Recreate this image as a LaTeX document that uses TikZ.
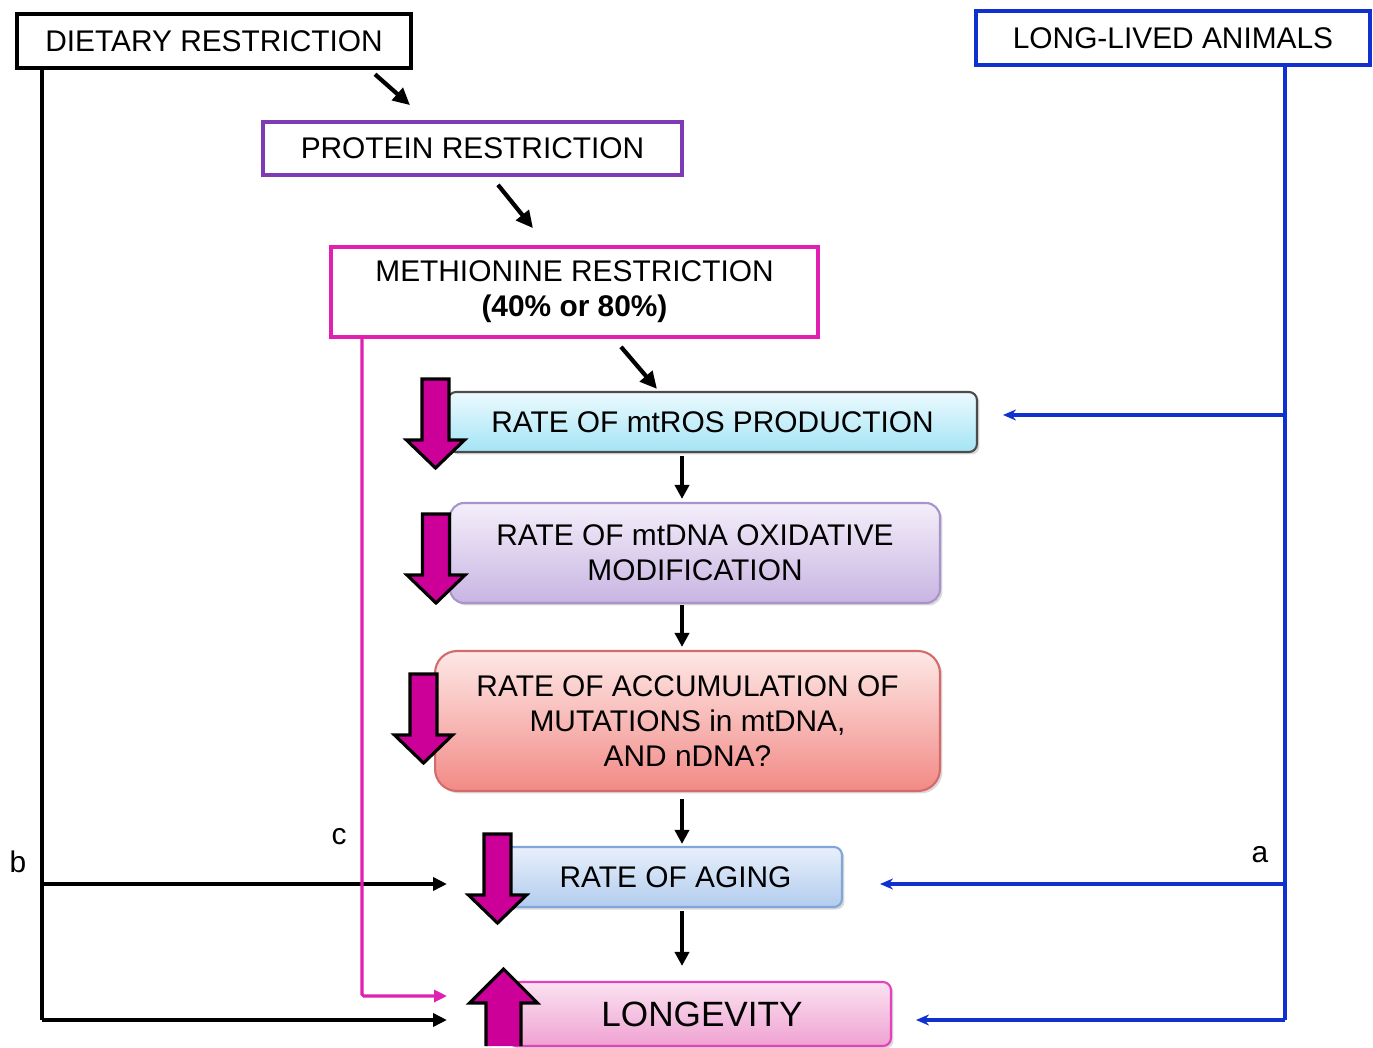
\documentclass[tikz,border=0pt]{standalone}
\usepackage{fontspec}
\setmainfont{Liberation Sans}
\usetikzlibrary{arrows.meta,calc,shadows}
\definecolor{fatmag}{HTML}{CC0099}
\definecolor{magline}{HTML}{E020B0}
\definecolor{purpline}{HTML}{7D3CB5}
\definecolor{blueline}{HTML}{1030D0}
\definecolor{rosT}{HTML}{ECFAFE}
\definecolor{rosB}{HTML}{A4E4F5}
\definecolor{dnaT}{HTML}{F4EFFA}
\definecolor{dnaB}{HTML}{C8B4E2}
\definecolor{dnaD}{HTML}{A894CC}
\definecolor{mutT}{HTML}{FDE8E6}
\definecolor{mutB}{HTML}{F28A86}
\definecolor{mutD}{HTML}{D46A6A}
\definecolor{ageT}{HTML}{E8F0FB}
\definecolor{ageB}{HTML}{B2CCEE}
\definecolor{ageD}{HTML}{7FA7D8}
\definecolor{lonT}{HTML}{FBE2F1}
\definecolor{lonB}{HTML}{EFA2D2}
\newcommand\fatdown[2]{%
  \draw[fatarrow] (#1-13.5,#2) -- (#1+13.5,#2) -- (#1+13.5,#2+61) -- (#1+29,#2+61)
    -- (#1,#2+89) -- (#1-29,#2+61) -- (#1-13.5,#2+61) -- cycle;}
\begin{document}
\begin{tikzpicture}[x=0.02cm,y=-0.02cm,
  font=\fontsize{17}{20}\selectfont,
  plainbox/.style={draw, line width=2.1pt, inner sep=0pt, align=center},
  roundbox/.style={draw, line width=1.2pt, inner sep=0pt, align=center,
     drop shadow={opacity=0.3, shadow xshift=0.05cm, shadow yshift=-0.05cm}},
  fatarrow/.style={draw=black, line width=1.8pt, fill=fatmag, line join=miter},
  arr/.style={line width=2.1pt, -{Triangle[length=0.28cm,width=0.28cm]}},
  diag/.style={line width=2.4pt, -{Triangle[length=0.34cm,width=0.32cm]}},
  blkline/.style={line width=2.1pt, line join=miter},
  bluel/.style={draw=blueline, line width=2.1pt},
  bluearr/.style={bluel, -{Stealth[length=0.26cm,width=0.22cm]}},
  magl/.style={draw=magline, line width=1.8pt},
  magarr/.style={magl, -{Triangle[length=0.26cm,width=0.24cm]}},
  blkarr/.style={line width=2.1pt, -{Triangle[length=0.28cm,width=0.26cm]}},
  lab/.style={inner sep=0pt}
]
\useasboundingbox (0,0) rectangle (1373,1048);

% top boxes
\node[plainbox, draw=black, line width=2.6pt, minimum width=7.88cm, minimum height=1.08cm] (dr) at (214,41) {DIETARY RESTRICTION};
\node[plainbox, draw=purpline, minimum width=8.38cm, minimum height=1.06cm] (pr) at (472.5,148.5) {PROTEIN RESTRICTION};
\node[plainbox, draw=magline, minimum width=9.74cm, minimum height=1.8cm] (mr) at (574.5,292) {METHIONINE RESTRICTION\\\textbf{(40\% or 80\%)}};
\node[plainbox, draw=blueline, minimum width=7.88cm, minimum height=1.08cm] (lla) at (1173,38) {LONG-LIVED ANIMALS};

% chain boxes
\node[roundbox, draw=black!70, rounded corners=0.16cm, top color=rosT, bottom color=rosB,
      minimum width=10.58cm, minimum height=1.2cm] (ros) at (712.5,422) {RATE OF mtROS PRODUCTION};
\node[roundbox, draw=dnaD, rounded corners=0.28cm, top color=dnaT, bottom color=dnaB,
      minimum width=9.8cm, minimum height=2.0cm] (dna) at (695,553) {RATE OF mtDNA OXIDATIVE\\MODIFICATION};
\node[roundbox, draw=mutD, rounded corners=0.44cm, top color=mutT, bottom color=mutB,
      minimum width=10.1cm, minimum height=2.8cm] (mut) at (687.5,721) {RATE OF ACCUMULATION OF\\MUTATIONS in mtDNA,\\AND nDNA?};
\node[roundbox, draw=ageD, rounded corners=0.16cm, top color=ageT, bottom color=ageB,
      minimum width=6.9cm, minimum height=1.2cm] (age) at (669.5,877) {\hspace*{0.24cm}RATE OF AGING};
\node[roundbox, draw=magline!85, rounded corners=0.16cm, top color=lonT, bottom color=lonB,
      minimum width=7.66cm, minimum height=1.28cm, font=\fontsize{20}{24}\selectfont] (lon) at (699.5,1014) {\hspace*{0.1cm}LONGEVITY};

% diagonal arrows
\draw[diag] ($(dr.south)+(161,4)$) -- ($(pr.north)+(-62.5,-15)$);
\draw[diag] ($(pr.south)+(25.5,8)$) -- ($(mr.north)+(-41.5,-17)$);
\draw[diag] ($(mr.south)+(46.5,8)$) -- ($(ros.north)+(-55.5,-2)$);

% vertical chain arrows
\coordinate (colx) at (682,0);
\draw[arr, shorten <=0.06cm, shorten >=0.06cm] (ros.south -| colx) -- (dna.north -| colx);
\draw[arr, shorten <=0.02cm, shorten >=0.06cm] (dna.south -| colx) -- (mut.north -| colx);
\draw[arr, shorten <=0.14cm, shorten >=0.04cm] (mut.south -| colx) -- (age.north -| colx);
\draw[arr, shorten <=0.06cm, shorten >=0.3cm] (age.south -| colx) -- (lon.north -| colx);

% left black lines (b)
\coordinate (bx) at (42,0);
\coordinate (agein) at (447,884);
\coordinate (lonin) at (447,1020);
\draw[blkline] (dr.south -| bx) -- (bx |- lonin);
\draw[blkarr] (bx |- agein) -- (agein);
\draw[blkarr] (bx |- lonin) -- (lonin);

% magenta line (c)
\coordinate (cx) at (362,0);
\coordinate (lonmag) at (447,996);
\draw[magarr, rounded corners=1pt] (mr.south -| cx) -- (cx |- lonmag) -- (lonmag);

% blue lines (a)
\coordinate (ax) at (1285,0);
\coordinate (rosb) at (1003,415);
\coordinate (ageb) at (880,884);
\coordinate (lonb) at (916,1020);
\draw[bluel] (lla.south -| ax) -- (ax |- lonb);
\draw[bluearr] (ax |- rosb) -- (rosb);
\draw[bluearr] (ax |- ageb) -- (ageb);
\draw[bluearr] (ax |- lonb) -- (lonb);

% labels
\node[lab] (lb) at (18,862) {b};
\node[lab] (lc) at (339,837) {c};
\node[lab] (la) at (1260,855) {a};

% fat arrows
\fatdown{435.5}{379}
\fatdown{436}{514}
\fatdown{423.5}{674}
\fatdown{497.5}{834}
\draw[fatarrow] (486,1046) -- (486,1003) -- (469.5,1003) -- (503.5,969) -- (537.5,1003) -- (521,1003) -- (521,1046);
\end{tikzpicture}
\end{document}
